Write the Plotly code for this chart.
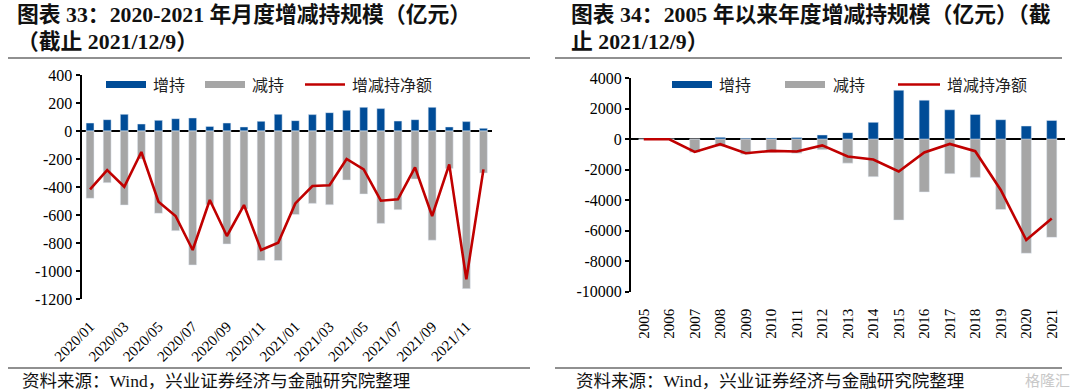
import plotly.graph_objects as go

# ---------------- data ----------------
months = ["2020/01", "2020/02", "2020/03", "2020/04", "2020/05", "2020/06",
          "2020/07", "2020/08", "2020/09", "2020/10", "2020/11", "2020/12",
          "2021/01", "2021/02", "2021/03", "2021/04", "2021/05", "2021/06",
          "2021/07", "2021/08", "2021/09", "2021/10", "2021/11", "2021/12"]
inc_m = [57, 81, 119, 50, 76, 88, 93, 33, 57, 29, 69, 119,
         74, 117, 131, 148, 169, 160, 71, 81, 169, 29, 67, 19]
dec_m = [-481, -369, -529, -200, -588, -712, -957, -526, -807, -558, -925, -925,
         -597, -517, -527, -350, -450, -660, -562, -343, -780, -267, -1126, -300]
net_m = [-417, -279, -398, -150, -505, -607, -850, -493, -750, -529, -850, -798,
         -517, -393, -388, -200, -274, -498, -488, -260, -607, -238, -1059, -274]
month_ticks = ["2020/01", "2020/03", "2020/05", "2020/07", "2020/09", "2020/11",
               "2021/01", "2021/03", "2021/05", "2021/07", "2021/09", "2021/11"]

years = ["2005", "2006", "2007", "2008", "2009", "2010", "2011", "2012", "2013",
         "2014", "2015", "2016", "2017", "2018", "2019", "2020", "2021"]
inc_y = [0, 0, 20, 130, 65, 87, 109, 283, 435, 1109, 3217, 2565, 1935, 1630, 1283, 870, 1239]
dec_y = [0, 0, -850, -450, -980, -847, -913, -680, -1565, -2457, -5304, -3457,
         -2261, -2500, -4609, -7478, -6435]
net_y = [0, 0, -830, -320, -913, -760, -804, -400, -1130, -1326, -2109, -870,
         -304, -783, -3326, -6609, -5196]
left_yticks = [400, 200, 0, -200, -400, -600, -800, -1000, -1200]
right_yticks = [4000, 2000, 0, -2000, -4000, -6000, -8000, -10000]

names = ["增持", "减持", "增减持净额"]
titles_left = ["图表 33：2020-2021 年月度增减持规模（亿元）", "（截止 2021/12/9）"]
titles_right = ["图表 34：2005 年以来年度增减持规模（亿元）（截", "止 2021/12/9）"]
source = "资料来源：Wind，兴业证券经济与金融研究院整理"

# ---------------- style ----------------
BLUE = "#004C97"
GRAY = "#A6A6A6"
RED = "#C00000"
FONT = "Liberation Serif, Noto Sans CJK SC, serif"
W, H = 1080, 392


def px(x):
    return x / W


def py(y):
    return 1 - y / H


fig = go.Figure()

# left chart
fig.add_bar(x=months, y=inc_m, marker_color=BLUE, width=0.46, name=names[0],
            xaxis="x", yaxis="y", showlegend=False)
fig.add_bar(x=months, y=dec_m, marker_color=GRAY, width=0.46, name=names[1],
            xaxis="x", yaxis="y", showlegend=False)
fig.add_scatter(x=months, y=net_m, mode="lines", line=dict(color=RED, width=2.6),
                name=names[2], xaxis="x", yaxis="y", showlegend=False)

# right chart
fig.add_bar(x=years, y=inc_y, marker_color=BLUE, width=0.4, name=names[0],
            xaxis="x2", yaxis="y2", showlegend=False)
fig.add_bar(x=years, y=dec_y, marker_color=GRAY, width=0.4, name=names[1],
            xaxis="x2", yaxis="y2", showlegend=False)
fig.add_scatter(x=years, y=net_y, mode="lines", line=dict(color=RED, width=2.6),
                name=names[2], xaxis="x2", yaxis="y2", showlegend=False)

yax_common = dict(showgrid=False, showline=True, linecolor="black", linewidth=2,
                  ticks="outside", ticklen=4, tickwidth=1.5, tickcolor="black",
                  zeroline=True, zerolinecolor="black", zerolinewidth=2,
                  automargin=False,
                  tickfont=dict(family=FONT, size=16, color="black"))
xax_common = dict(showgrid=False, showline=False, zeroline=False, automargin=False,
                  ticks="outside", tickcolor="rgba(0,0,0,0)")

fig.update_layout(
    width=W, height=H, autosize=False,
    margin=dict(l=0, r=0, t=0, b=0, pad=0),
    paper_bgcolor="white", plot_bgcolor="white",
    barmode="overlay",
    font=dict(family=FONT, color="black"),
    xaxis=dict(domain=[px(81.5), px(492)], anchor="y", type="category",
               range=[-0.5, 23.5], tickvals=month_ticks, ticktext=month_ticks,
               tickangle=-45, ticklen=12,
               tickfont=dict(family=FONT, size=15, color="black"), **xax_common),
    yaxis=dict(domain=[py(299), py(75)], anchor="x", range=[-1200, 400],
               tickvals=left_yticks, ticktext=[str(v) for v in left_yticks],
               **yax_common),
    xaxis2=dict(domain=[px(631), px(1064.5)], anchor="y2", type="category",
                range=[-0.5, 16.5], tickvals=years, ticktext=years,
                tickangle=-90, ticklen=10,
                tickfont=dict(family=FONT, size=15, color="black"), **xax_common),
    yaxis2=dict(domain=[py(291.7), py(78.3)], anchor="x2", range=[-10000, 4000],
                tickvals=right_yticks, ticktext=[str(v) for v in right_yticks],
                **yax_common),
)

shapes = []
annotations = []

# titles and rules
for (x0, x1, tx, lines) in [(8, 530, 15, titles_left), (555, 1062, 569, titles_right)]:
    annotations.append(dict(xref="paper", yref="paper", x=px(tx), y=py(15),
                            xanchor="left", yanchor="middle", showarrow=False,
                            text="<b>" + lines[0] + "</b>",
                            font=dict(family=FONT, size=21.8, color="#111111")))
    annotations.append(dict(xref="paper", yref="paper", x=px(tx), y=py(42),
                            xanchor="left", yanchor="middle", showarrow=False,
                            text="<b>" + lines[1] + "</b>",
                            font=dict(family=FONT, size=21.8, color="#111111")))
    shapes.append(dict(type="line", xref="paper", yref="paper", x0=px(x0), x1=px(x1),
                       y0=py(58), y1=py(58), line=dict(color="#222222", width=1.2)))
    shapes.append(dict(type="line", xref="paper", yref="paper", x0=px(x0), x1=px(x1),
                       y0=py(368), y1=py(368), line=dict(color="#222222", width=1.2)))
    annotations.append(dict(xref="paper", yref="paper", x=px(tx + 5), y=py(381),
                            xanchor="left", yanchor="middle", showarrow=False,
                            text=source,
                            font=dict(family=FONT, size=17.5, color="#111111")))

# legends (manual)
legend_specs = [
    [(106, 146, 151), (205, 245, 250), (305, 345, 350)],
    [(672, 712, 717), (785, 825, 831), (898, 940, 945)],
]
for spec in legend_specs:
    (b0, b1, bt), (g0, g1, gt), (r0, r1, rt) = spec
    shapes.append(dict(type="rect", xref="paper", yref="paper", x0=px(b0), x1=px(b1),
                       y0=py(88), y1=py(81), fillcolor=BLUE, line=dict(width=0)))
    shapes.append(dict(type="rect", xref="paper", yref="paper", x0=px(g0), x1=px(g1),
                       y0=py(88), y1=py(81), fillcolor=GRAY, line=dict(width=0)))
    shapes.append(dict(type="line", xref="paper", yref="paper", x0=px(r0), x1=px(r1),
                       y0=py(84.5), y1=py(84.5), line=dict(color=RED, width=2.6)))
    for tx, nm in [(bt, names[0]), (gt, names[1]), (rt, names[2])]:
        annotations.append(dict(xref="paper", yref="paper", x=px(tx), y=py(85),
                                xanchor="left", yanchor="middle", showarrow=False,
                                text=nm, font=dict(family=FONT, size=16, color="#222222")))

# watermark
annotations.append(dict(xref="paper", yref="paper", x=px(1072), y=py(381),
                        xanchor="right", yanchor="middle", showarrow=False,
                        text="格隆汇", font=dict(family=FONT, size=15, color="#C8C8C8")))

fig.update_layout(shapes=shapes, annotations=annotations)

fig.write_html("out.html", config={"displayModeBar": False},
               post_script="document.body.style.margin='0';document.body.style.overflow='hidden';")
